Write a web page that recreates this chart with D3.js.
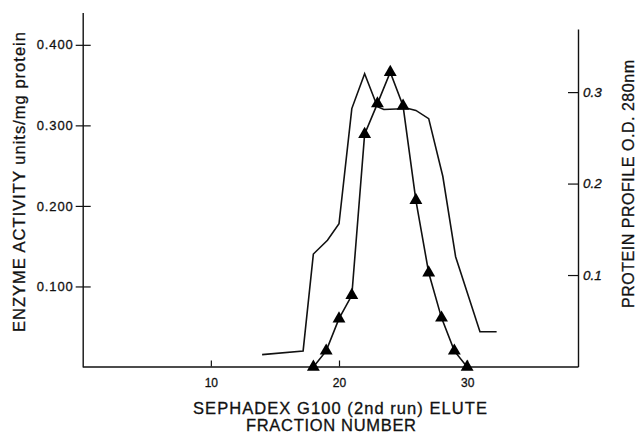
<!DOCTYPE html>
<html>
<head>
<meta charset="utf-8">
<script src="https://cdn.jsdelivr.net/npm/d3@7"></script>
<style>
  html, body { margin: 0; padding: 0; background: #fff; }
  svg { display: block; font-family: 'Liberation Sans', Arial, Helvetica, sans-serif; }
  svg text { stroke: #111; stroke-width: 0.3px; }
</style>
</head>
<body>
<div id="chart"></div>
<script>
// fraction number ticks (x) and the two y axes
const fractionTicks = [10, 20, 30];
const activityTicks = [0.1, 0.2, 0.3, 0.4];
const proteinTicks = [0.1, 0.2, 0.3];

// enzyme activity, units/mg protein (triangles, left axis)
const activityFractions = [18, 19, 20, 21, 22, 23, 24, 25, 26, 27, 28, 29, 30];
const activityValues = [0, 0.020, 0.060, 0.089, 0.289, 0.327, 0.366, 0.324, 0.207, 0.117, 0.061, 0.020, 0];

// protein profile O.D. 280nm (plain line, right axis)
const proteinFractions = [14, 17.2, 18, 19.1, 20, 21, 22, 23, 23.5, 25.4, 26, 27, 28.1, 29.1, 31, 32.3];
const proteinValues = [0.013, 0.017, 0.123, 0.138, 0.156, 0.282, 0.320, 0.284, 0.281, 0.282, 0.280, 0.271, 0.208, 0.120, 0.038, 0.038];

const width = 636;
const height = 433;

function zip (xs, ys) {
  return xs.map((d, i) => ({ x: d, y: ys[i] }));
}

function styleAxis (g, fontSize) {
  g.select('.domain').attr('stroke', '#111').attr('stroke-width', 1.4);
  g.selectAll('.tick line').attr('stroke', '#111').attr('stroke-width', 1.2);
  g.selectAll('.tick text').attr('fill', '#111').style('font-size', `${fontSize}px`);
}

function drawChart () {
  const svg = d3.select('#chart')
    .append('svg')
    .attr('width', width)
    .attr('height', height)
    .attr('viewBox', `0 0 ${width} ${height}`);

  const x = d3.scaleLinear().domain([0, 38.65]).range([82.7, 578]);
  const yLeft = d3.scaleLinear().domain([0, 0.44]).range([367, 12.6]);
  const yRight = d3.scaleLinear().domain([0, 0.369]).range([366.5, 29]);

  // left axis: ticks cross the axis line
  const left = svg.append('g')
    .attr('transform', `translate(${x.range()[0]},0)`)
    .call(d3.axisLeft(yLeft)
      .tickValues(activityTicks)
      .tickFormat(d3.format('.3f'))
      .tickSize(7)
      .tickSizeOuter(0)
      .tickPadding(2));
  styleAxis(left, 13);
  left.selectAll('.tick line').attr('x2', 8).attr('x1', -7);
  left.selectAll('.tick text').style('letter-spacing', '0.9px');

  // right axis: inward ticks, italic labels
  const right = svg.append('g')
    .attr('transform', `translate(${x.range()[1]},0)`)
    .call(d3.axisRight(yRight)
      .tickValues(proteinTicks)
      .tickFormat(d3.format('.1f'))
      .tickSizeInner(-10)
      .tickSizeOuter(0)
      .tickPadding(5));
  styleAxis(right, 13.5);
  right.selectAll('.tick text').style('font-style', 'italic');

  // bottom axis: short upward ticks
  const bottom = svg.append('g')
    .attr('transform', `translate(0,${yRight.range()[0]})`)
    .call(d3.axisBottom(x)
      .tickValues(fractionTicks)
      .tickFormat(d3.format('d'))
      .tickSizeInner(-6)
      .tickSizeOuter(0)
      .tickPadding(12));
  styleAxis(bottom, 12);

  // protein profile
  const proteinLine = d3.line()
    .x((d) => x(d.x))
    .y((d) => yRight(d.y));

  svg.append('path')
    .datum(zip(proteinFractions, proteinValues))
    .attr('fill', 'none')
    .attr('stroke', '#111')
    .attr('stroke-width', 1.6)
    .attr('d', proteinLine);

  // enzyme activity
  const activityData = zip(activityFractions, activityValues);
  const activityLine = d3.line()
    .x((d) => x(d.x))
    .y((d) => yLeft(d.y));

  svg.append('path')
    .datum(activityData)
    .attr('fill', 'none')
    .attr('stroke', '#111')
    .attr('stroke-width', 1.6)
    .attr('d', activityLine);

  svg.append('g')
    .selectAll('path')
    .data(activityData)
    .enter()
    .append('path')
    .attr('transform', (d) => `translate(${x(d.x)},${yLeft(d.y)})`)
    .attr('d', d3.symbol().type(d3.symbolTriangle).size(72))
    .attr('fill', '#000');

  // titles
  svg.append('text')
    .attr('transform', 'translate(25,182) rotate(-90)')
    .attr('text-anchor', 'middle')
    .attr('textLength', 300)
    .attr('lengthAdjust', 'spacing')
    .style('font-size', '16.5px')
    .attr('fill', '#111')
    .text('ENZYME ACTIVITY units/mg protein');

  svg.append('text')
    .attr('transform', 'translate(634,184) rotate(-90)')
    .attr('text-anchor', 'middle')
    .attr('textLength', 248)
    .attr('lengthAdjust', 'spacing')
    .style('font-size', '16px')
    .attr('fill', '#111')
    .text('PROTEIN PROFILE O.D. 280nm');

  svg.append('text')
    .attr('x', 340)
    .attr('y', 413.5)
    .attr('text-anchor', 'middle')
    .attr('textLength', 294)
    .attr('lengthAdjust', 'spacing')
    .style('font-size', '16.5px')
    .attr('fill', '#111')
    .text('SEPHADEX G100 (2nd run) ELUTE');

  svg.append('text')
    .attr('x', 331)
    .attr('y', 431)
    .attr('text-anchor', 'middle')
    .attr('textLength', 170)
    .attr('lengthAdjust', 'spacing')
    .style('font-size', '16.5px')
    .attr('fill', '#111')
    .text('FRACTION NUMBER');
}

drawChart();
</script>
</body>
</html>
